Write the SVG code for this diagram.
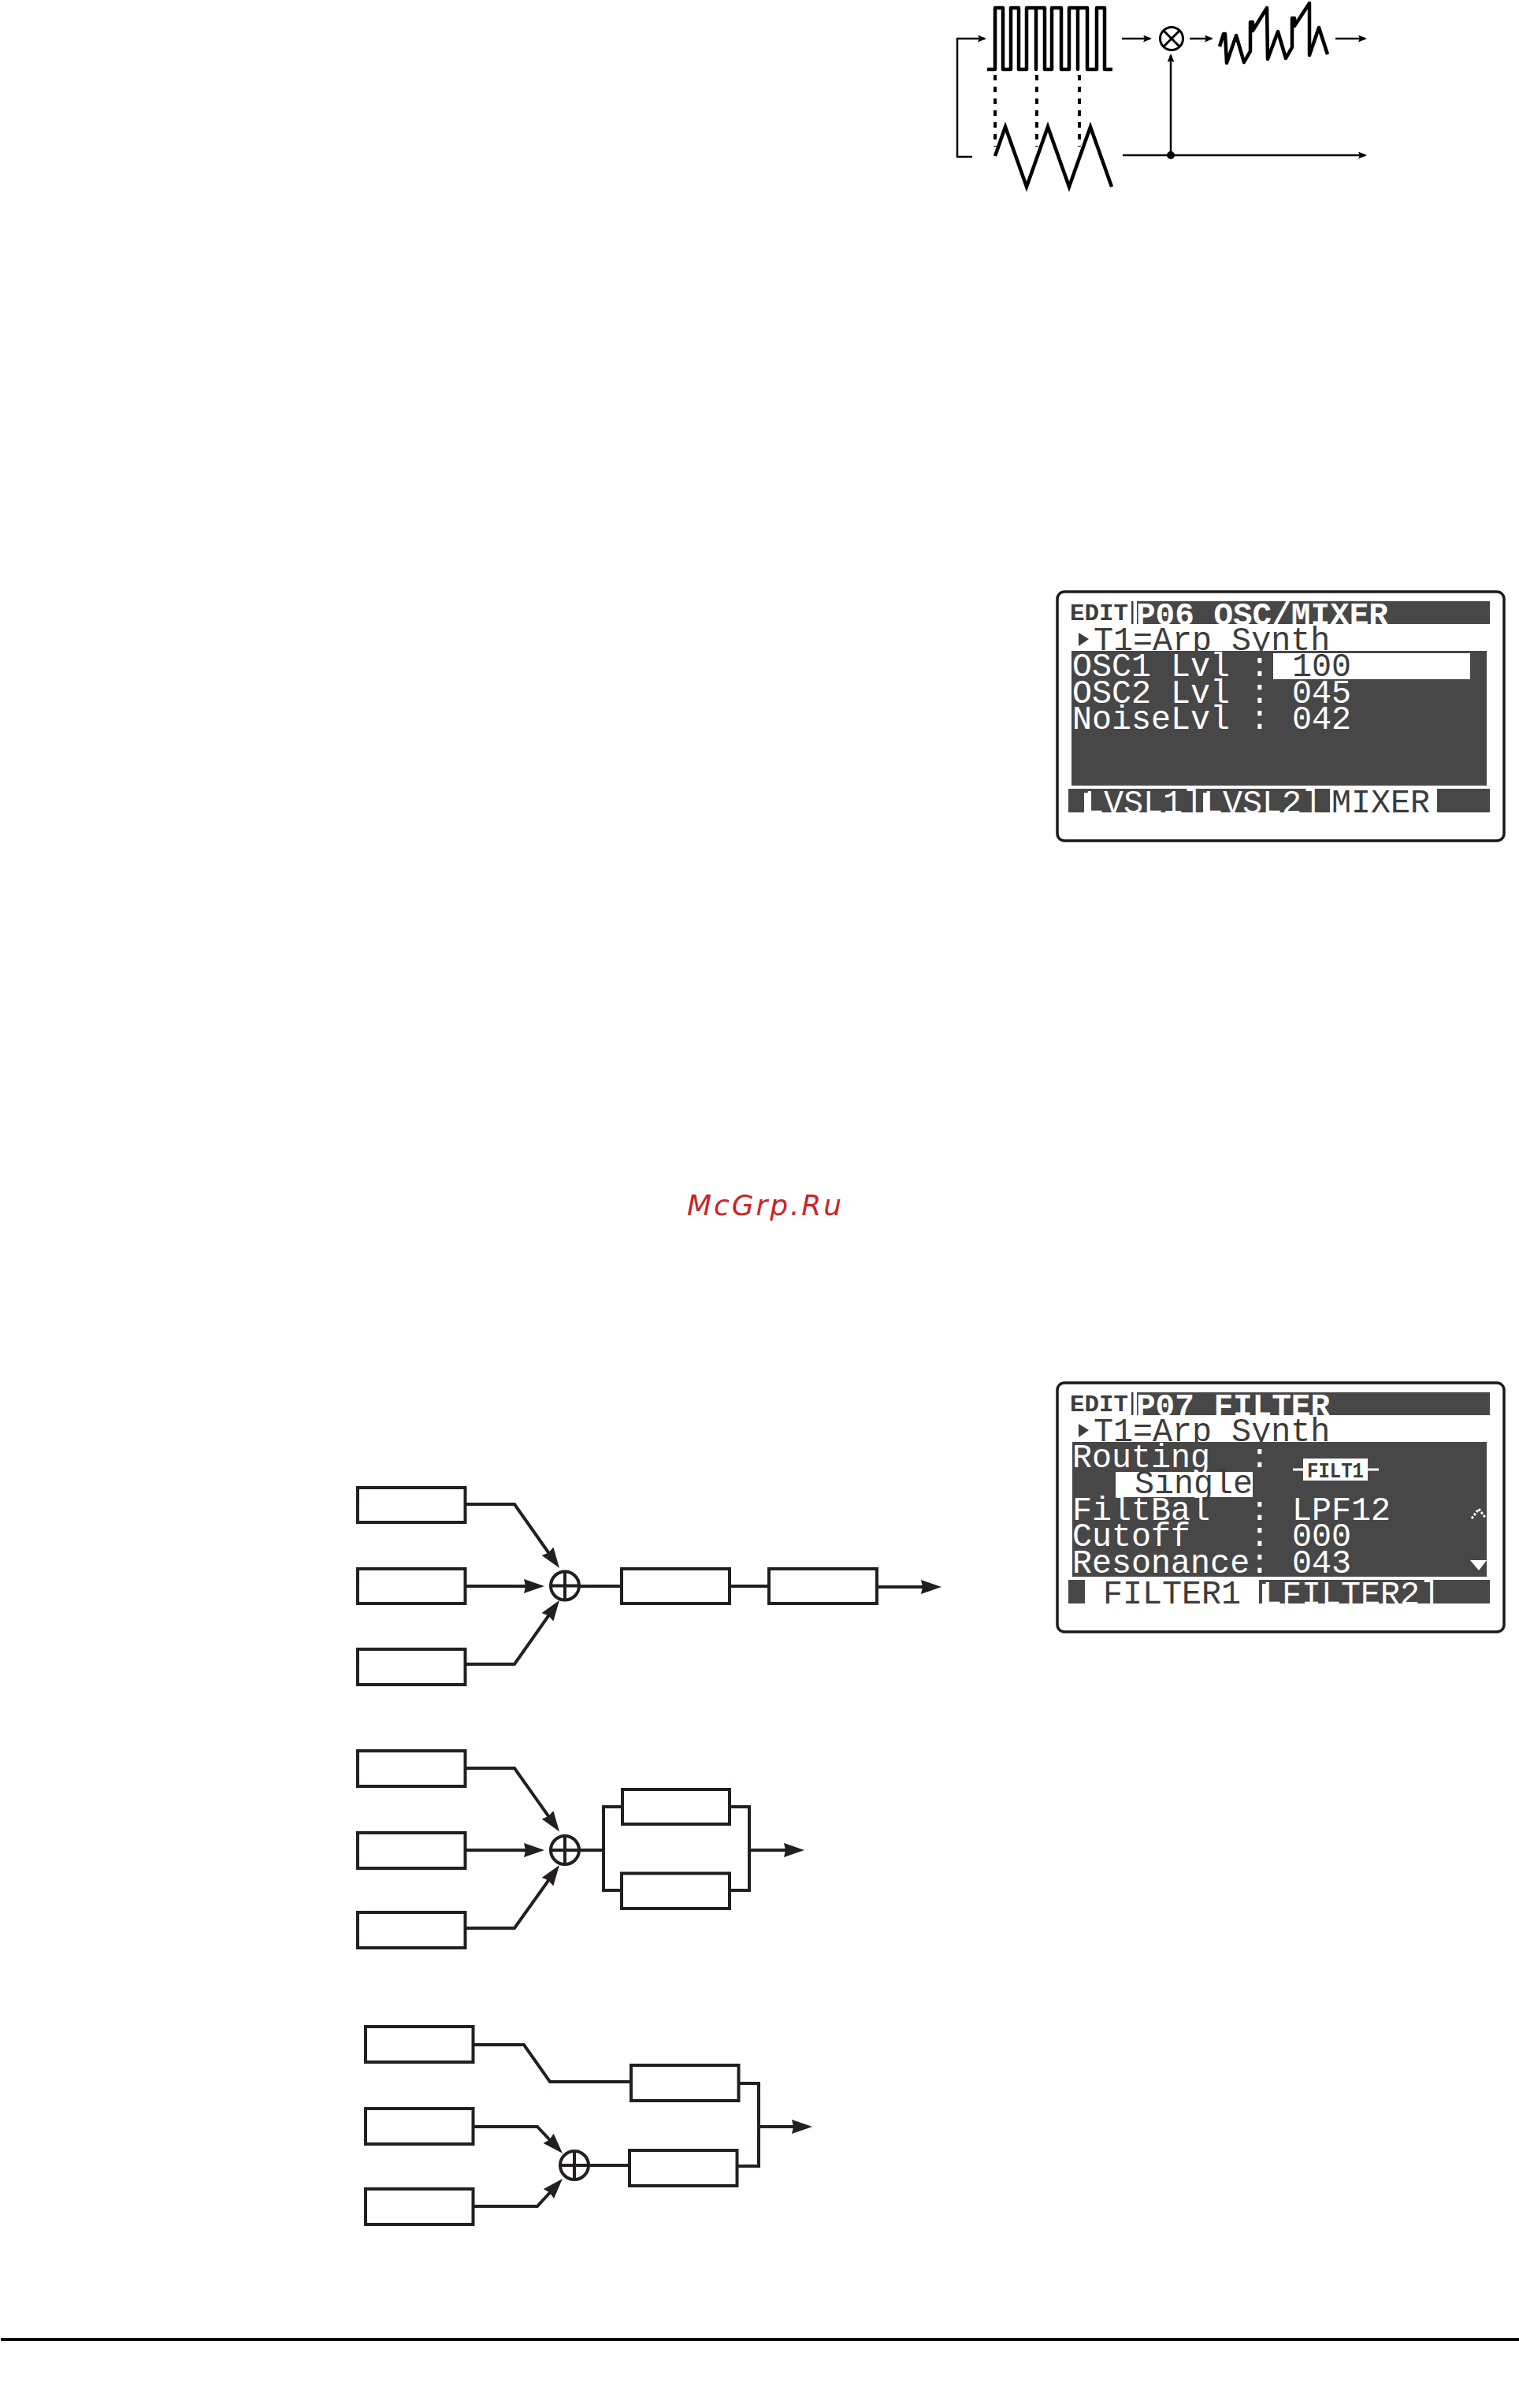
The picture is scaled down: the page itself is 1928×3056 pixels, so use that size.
<svg xmlns="http://www.w3.org/2000/svg" width="1928" height="3056" viewBox="0 0 1928 3056">
<style>
.bg{fill:#fff}
.wave{fill:none;stroke:#000;stroke-width:4.5;stroke-linejoin:round}
.sharp{fill:none;stroke:#000;stroke-width:4.5;stroke-linejoin:miter}
.tick{fill:none;stroke:#000;stroke-width:4;stroke-dasharray:7 8}
.thin{fill:none;stroke:#000;stroke-width:2.5}
.conn{fill:none;stroke:#231f20;stroke-width:4;stroke-linejoin:miter}
.box{fill:#fff;stroke:#231f20;stroke-width:4}
.sum{fill:#fff;stroke:#231f20;stroke-width:4}
.frame{fill:#fff;stroke:#1a1a1a;stroke-width:3.5}
.dark{fill:#474747}
.white{fill:#fff}
.lcd{font-family:"Liberation Mono",monospace;font-size:41.7px;white-space:pre}
.w{fill:#fff}
.d{fill:#3c3c3c}
.edit{font-family:"Liberation Mono",monospace;font-size:30px;font-weight:bold;fill:#3c3c3c}
.hd{font-family:"Liberation Mono",monospace;font-size:41px;font-weight:bold;fill:#fff}
.mark{font-family:"DejaVu Sans",sans-serif;font-style:italic;font-size:36px;fill:#cc2229}
</style>
<defs>
<marker id="big" markerUnits="userSpaceOnUse" markerWidth="30" markerHeight="20" refX="18" refY="9" orient="auto"><path d="M0 0L26 9L0 18L2 9Z" fill="#231f20"/></marker>
<marker id="small" markerUnits="userSpaceOnUse" markerWidth="14" markerHeight="10" refX="9" refY="4.5" orient="auto"><path d="M0 0L11 4.5L0 9L2 4.5Z" fill="#000"/></marker>
<clipPath id="c1"><rect x="1356" y="1001" width="535" height="30"/></clipPath>
<clipPath id="c2"><rect x="1356" y="2005" width="535" height="30"/></clipPath>
<clipPath id="h1"><rect x="1443" y="763" width="448" height="29"/></clipPath>
<clipPath id="h2"><rect x="1443" y="1767" width="448" height="29"/></clipPath>
</defs>
<rect class="bg" width="1928" height="3056"/>

<g id="waveforms">
<path class="wave" d="M1253 88H1263V10H1273V88H1283V10H1293V88H1303V10H1315V88V10H1326V88H1335V10H1347V88H1357V10H1368V88V10H1380V88H1392V10H1402V88H1412"/>
<path class="tick" d="M1263 95V186M1316 95V186M1370 95V186"/>
<path class="sharp" d="M1263 198L1276 161L1303 237L1330 161L1357 237L1384 161L1411 237"/>
<path class="wave" d="M1548 59L1553 43L1555 43L1557 80L1569 45L1579 79L1587 65V28H1590V39L1608 10L1609 75L1622 40L1632 74L1640 60V23H1643V33L1662 4L1662 70L1674 35L1685 69"/>
</g>
<g id="ring-mod">
<circle cx="1487" cy="49" r="14.5" fill="#fff" stroke="#000" stroke-width="3"/>
<path d="M1477 39L1497 59M1497 39L1477 59" stroke="#000" stroke-width="3" fill="none"/>
</g>
<g id="wave-connectors">
<path class="thin" d="M1234 199H1215V49H1250" marker-end="url(#small)"/>
<path class="thin" d="M1424 49H1460" marker-end="url(#small)"/>
<path class="thin" d="M1510 49H1538" marker-end="url(#small)"/>
<path class="thin" d="M1695 49H1733" marker-end="url(#small)"/>
<path class="thin" d="M1425 197H1733" marker-end="url(#small)"/>
<path class="thin" d="M1486 197V70" marker-end="url(#small)"/>
<circle cx="1486" cy="197" r="5" fill="#000"/>
</g>

<g id="lcd-mixer">
<rect class="frame" x="1342" y="751" width="567" height="316" rx="9"/>
<text class="edit" x="1358" y="787" textLength="74" lengthAdjust="spacingAndGlyphs">EDIT</text>
<rect class="d" x="1436" y="763" width="2.5" height="29"/>
<rect class="dark" x="1443" y="763" width="448" height="29"/>
<text class="hd" x="1442" y="793" clip-path="url(#h1)">P06 OSC/MIXER</text>
<polygon class="d" points="1369,803 1382,811 1369,820"/>
<text class="lcd d" x="1388" y="825">T1=Arp Synth</text>
<rect class="dark" x="1360" y="826" width="527" height="171"/>
<rect class="white" x="1616" y="829" width="250" height="33"/>
<text class="lcd w" x="1361" y="858">OSC1 Lvl :</text>
<text class="lcd d" x="1640" y="858">100</text>
<text class="lcd w" x="1361" y="892">OSC2 Lvl :</text>
<text class="lcd w" x="1640" y="892">045</text>
<text class="lcd w" x="1361" y="925">NoiseLvl :</text>
<text class="lcd w" x="1640" y="925">042</text>
<rect class="dark" x="1356" y="1001" width="535" height="30"/>
<rect class="white" x="1688" y="1001" width="136" height="30"/>
<rect class="white" x="1376" y="1006" width="9" height="25"/>
<rect class="white" x="1527" y="1006" width="8" height="25"/>
<g clip-path="url(#c1)">
<text class="lcd w" x="1376" y="1032">LVSL1]</text>
<text class="lcd w" x="1527" y="1032">LVSL2]</text>
<text class="lcd d" x="1690" y="1031">MIXER</text>
</g>
</g>

<g id="lcd-filter">
<rect class="frame" x="1342" y="1755" width="567" height="316" rx="9"/>
<text class="edit" x="1358" y="1791" textLength="74" lengthAdjust="spacingAndGlyphs">EDIT</text>
<rect class="d" x="1436" y="1767" width="2.5" height="29"/>
<rect class="dark" x="1443" y="1767" width="448" height="29"/>
<text class="hd" x="1442" y="1797" clip-path="url(#h2)">P07 FILTER</text>
<polygon class="d" points="1369,1807 1382,1815 1369,1824"/>
<text class="lcd d" x="1388" y="1829">T1=Arp Synth</text>
<rect class="dark" x="1361" y="1830" width="526" height="171"/>
<text class="lcd w" x="1361" y="1862">Routing  :</text>
<rect class="white" x="1416" y="1868" width="174" height="32"/>
<text class="lcd d" x="1440" y="1895">Single</text>
<path d="M1641 1865H1750" stroke="#fff" stroke-width="3" fill="none"/>
<rect class="white" x="1654" y="1851" width="82" height="28"/>
<text x="1695" y="1875" text-anchor="middle" font-family="Liberation Mono,monospace" font-size="28" font-weight="bold" fill="#3c3c3c" textLength="72" lengthAdjust="spacingAndGlyphs">FILT1</text>
<text class="lcd w" x="1361" y="1929">FiltBal  :</text>
<text class="lcd w" x="1640" y="1929">LPF12</text>
<text class="lcd w" x="1361" y="1962">Cutoff   :</text>
<text class="lcd w" x="1640" y="1962">000</text>
<text class="lcd w" x="1361" y="1996">Resonance:</text>
<text class="lcd w" x="1640" y="1996">043</text>
<path d="M1868 1927L1877 1915L1886 1927" stroke="#fff" stroke-width="3" stroke-dasharray="3 2" fill="none"/>
<polygon class="white" points="1866,1980 1887,1980 1877,1993"/>
<rect class="dark" x="1356" y="2005" width="535" height="30"/>
<rect class="white" x="1377" y="2005" width="221" height="30"/>
<rect class="white" x="1602" y="2010" width="8" height="25"/>
<g clip-path="url(#c2)">
<text class="lcd d" x="1400" y="2035">FILTER1</text>
<text class="lcd w" x="1602" y="2036">LFILTER2]</text>
</g>
</g>

<text id="watermark" class="mark" x="872" y="1542" textLength="196">McGrp.Ru</text>

<g id="connectors">
<path class="conn" d="M590.5 1909H653L705.4 1983.5" marker-end="url(#big)"/>
<path class="conn" d="M590.5 2013H683" marker-end="url(#big)"/>
<path class="conn" d="M590.5 2112H653L705.4 2037.5" marker-end="url(#big)"/>
<path class="conn" d="M735 2013H789"/>
<path class="conn" d="M926 2013H976"/>
<path class="conn" d="M1113 2014H1187" marker-end="url(#big)"/>
<path class="conn" d="M590.5 2244H653L705.4 2318" marker-end="url(#big)"/>
<path class="conn" d="M590.5 2348H683" marker-end="url(#big)"/>
<path class="conn" d="M590.5 2447H653L705.4 2373.5" marker-end="url(#big)"/>
<path class="conn" d="M735 2348H766"/>
<path class="conn" d="M789 2293H766V2399H789"/>
<path class="conn" d="M926 2293H951V2399H926"/>
<path class="conn" d="M951 2348H1013" marker-end="url(#big)"/>
<path class="conn" d="M600.5 2595H665L698 2642H801"/>
<path class="conn" d="M600.5 2699H682L708.5 2727" marker-end="url(#big)"/>
<path class="conn" d="M600.5 2800H682L708.6 2771" marker-end="url(#big)"/>
<path class="conn" d="M747 2748H799"/>
<path class="conn" d="M937.5 2644H963V2749H935.5"/>
<path class="conn" d="M963 2699H1023" marker-end="url(#big)"/>
</g>

<g id="n1"><rect class="box" x="454" y="1888" width="136.5" height="44"/></g>
<g id="n2"><rect class="box" x="454" y="1991" width="136.5" height="44"/></g>
<g id="n3"><rect class="box" x="454" y="2093" width="136.5" height="45"/></g>
<g id="sum1"><circle class="sum" cx="717" cy="2012.5" r="18"/><path class="conn" d="M699 2012.5H735M717 1994.5V2030.5"/></g>
<g id="n4"><rect class="box" x="789" y="1991" width="137" height="44"/></g>
<g id="n5"><rect class="box" x="976" y="1991" width="137" height="44"/></g>

<g id="n6"><rect class="box" x="454" y="2222" width="136.5" height="45"/></g>
<g id="n7"><rect class="box" x="454" y="2326" width="136.5" height="45"/></g>
<g id="n8"><rect class="box" x="454" y="2427" width="136.5" height="45"/></g>
<g id="sum2"><circle class="sum" cx="717" cy="2348" r="18"/><path class="conn" d="M699 2348H735M717 2330V2366"/></g>
<g id="n9"><rect class="box" x="790" y="2271" width="136" height="44"/></g>
<g id="n10"><rect class="box" x="789" y="2377.5" width="137" height="44.5"/></g>

<g id="n11"><rect class="box" x="464" y="2572" width="136.5" height="45"/></g>
<g id="n12"><rect class="box" x="464" y="2676" width="136.5" height="45"/></g>
<g id="n13"><rect class="box" x="464" y="2778" width="136.5" height="45"/></g>
<g id="sum3"><circle class="sum" cx="729" cy="2748" r="18"/><path class="conn" d="M711 2748H747M729 2730V2766"/></g>
<g id="n14"><rect class="box" x="801" y="2621" width="136.5" height="45"/></g>
<g id="n15"><rect class="box" x="799" y="2729" width="136.5" height="45"/></g>

<rect id="footer-rule" x="1" y="2967" width="1927" height="4" fill="#000"/>
</svg>
